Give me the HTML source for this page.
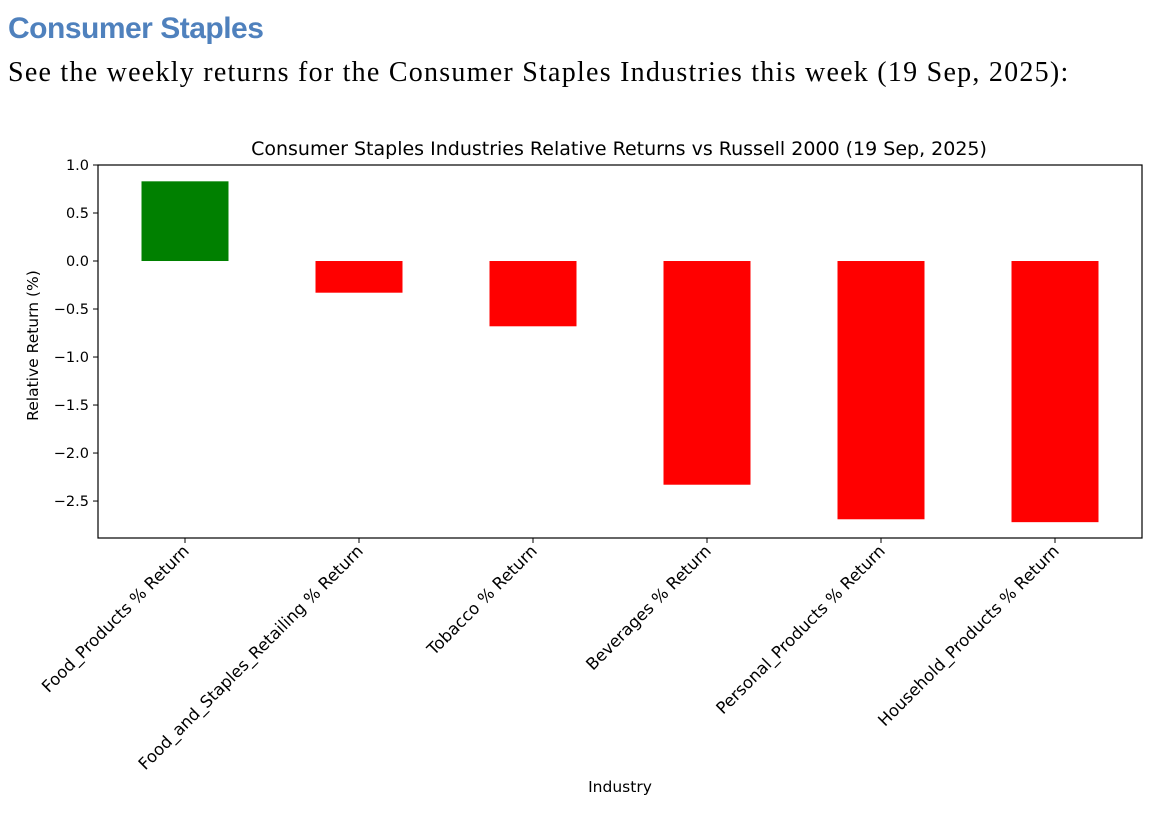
<!DOCTYPE html>
<html><head><meta charset="utf-8"><style>
body{margin:0;width:1154px;height:814px;background:#fff;overflow:hidden;position:relative}
#h1{position:absolute;left:8px;top:12px;font:bold 30px "Liberation Sans",sans-serif;color:#4F81BD;letter-spacing:-0.5px}
#sub{position:absolute;left:8px;top:57px;font:28px "Liberation Serif",serif;color:#000;letter-spacing:1.25px;white-space:nowrap}
svg{position:absolute;left:0;top:0}
text{font-family:"DejaVu Sans","Liberation Sans",sans-serif;fill:#000}
</style></head><body>
<div id="h1">Consumer Staples</div>
<div id="sub">See the weekly returns for the Consumer Staples Industries this week (19 Sep, 2025):</div>
<svg id="chart" width="1154" height="814"></svg>
<script>
const categories=["Food_Products % Return","Food_and_Staples_Retailing % Return","Tobacco % Return","Beverages % Return","Personal_Products % Return","Household_Products % Return"];
const values=[0.83,-0.33,-0.68,-2.33,-2.69,-2.72];
const yTicks=[1.0,0.5,0.0,-0.5,-1.0,-1.5,-2.0,-2.5];
const yTickLabels=["1.0","0.5","0.0","\u22120.5","\u22121.0","\u22121.5","\u22122.0","\u22122.5"];
const L=98,R=1142,T=165,B=538,ymax=1.0,ymin=-2.885;
const svg=document.getElementById('chart');
const NS='http://www.w3.org/2000/svg';
function y(v){return T+(ymax-v)/(ymax-ymin)*(B-T);}
const step=(R-L)/categories.length;
function x(i){return L+step*(i+0.5);}
function mk(t,a){const e=document.createElementNS(NS,t);for(const k in a)e.setAttribute(k,a[k]);svg.appendChild(e);return e;}
values.forEach((v,i)=>{
 const bw=step*0.5;
 const r=mk('rect',{x:x(i)-bw/2,y:Math.min(y(v),y(0)),width:bw,height:Math.abs(y(v)-y(0)),fill:v>=0?'#008000':'#ff0000'});
 
 
 mk('line',{x1:x(i),x2:x(i),y1:B,y2:B+5,stroke:'#000','stroke-width':1});
 const t=mk('text',{x:0,y:0,'font-size':16.5,'text-anchor':'end',transform:`translate(${x(i)+5},${B+14}) rotate(-45)`});
 t.textContent=categories[i];
 
 
});
yTicks.forEach((v,i)=>{
 mk('line',{x1:L-5,x2:L,y1:y(v),y2:y(v),stroke:'#000','stroke-width':1});
 const t=mk('text',{x:L-9,y:y(v)+5,'font-size':14.5,'text-anchor':'end'});
 t.textContent=yTickLabels[i];
 
 
});
const fr=mk('rect',{x:L,y:T,width:R-L,height:B-T,fill:'none',stroke:'#000','stroke-width':1.2});


const ti=mk('text',{x:(L+R)/2-1,y:155,'font-size':19,'text-anchor':'middle'});
ti.textContent='Consumer Staples Industries Relative Returns vs Russell 2000 (19 Sep, 2025)';


const yl=mk('text',{x:0,y:0,'font-size':15.5,'text-anchor':'middle',transform:`translate(38,${(T+B)/2-6}) rotate(-90)`});
yl.textContent='Relative Return (%)';


const xl=mk('text',{x:620,y:792,'font-size':15.5,'text-anchor':'middle'});
xl.textContent='Industry';


</script>
</body></html>
